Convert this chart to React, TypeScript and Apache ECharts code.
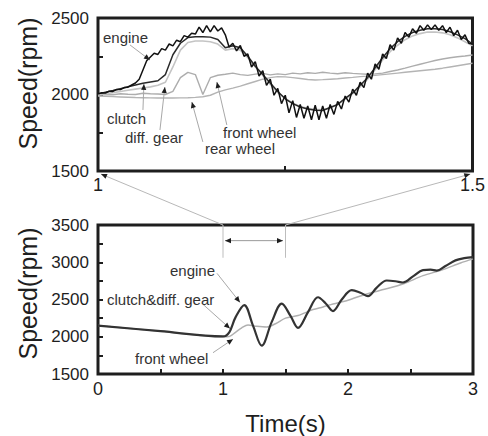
import React, { useEffect, useRef } from "react";
import * as echarts from "echarts";

// ---------- Top panel (zoom 1.0 s – 1.5 s) ----------
const topTime = [1.00,1.01,1.02,1.03,1.04,1.05,1.06,1.07,1.08,1.09,1.10,1.11,1.12,1.13,1.14,1.15,1.16,1.17,1.18,1.19,1.20,1.21,1.22,1.23,1.24,1.25,1.26,1.27,1.28,1.29,1.30,1.31,1.32,1.33,1.34,1.35,1.36,1.37,1.38,1.39,1.40,1.41,1.42,1.43,1.44,1.45,1.46,1.47,1.48,1.49,1.50];
const clutchTop = [2004,2015,2026,2038,2050,2062,2074,2082,2090,2130,2260,2335,2372,2378,2378,2375,2360,2305,2318,2305,2250,2185,2130,2075,2020,1972,1940,1918,1905,1897,1895,1915,1935,1975,2010,2060,2110,2175,2240,2300,2345,2380,2405,2420,2430,2430,2425,2410,2390,2365,2330];
const diffGearTop = [2000,2005,2012,2020,2028,2035,2042,2050,2060,2080,2180,2290,2340,2350,2350,2345,2330,2290,2300,2290,2240,2180,2125,2065,2012,1975,1945,1922,1910,1903,1900,1912,1935,1970,2005,2050,2100,2162,2225,2280,2322,2358,2383,2398,2408,2408,2403,2390,2370,2345,2318];
const frontWheelTop = [1995,2000,1998,2005,2002,2000,2008,2005,2003,2000,2020,2110,2145,2130,2000,2110,2126,2132,2140,2130,2125,2133,2138,2128,2135,2130,2140,2135,2142,2138,2145,2140,2136,2142,2138,2135,2132,2135,2140,2150,2160,2172,2185,2198,2210,2222,2232,2240,2247,2252,2258];
const rearWheelTop = [1990,1988,1986,1984,1982,1980,1979,1978,1977,1977,1977,1978,1979,1981,1985,1995,2015,2030,2042,2055,2070,2085,2100,2110,2117,2115,2110,2105,2098,2095,2097,2100,2103,2108,2112,2117,2120,2125,2130,2135,2140,2145,2150,2155,2160,2165,2172,2180,2188,2196,2204];

const engineTime = [1.000,1.005,1.010,1.015,1.020,1.025,1.030,1.035,1.040,1.045,1.050,1.055,1.060,1.065,1.070,1.075,1.080,1.085,1.090,1.095,1.100,1.105,1.110,1.115,1.120,1.125,1.130,1.135,1.140,1.145,1.150,1.155,1.160,1.165,1.170,1.175,1.180,1.185,1.190,1.195,1.200,1.205,1.210,1.215,1.220,1.225,1.230,1.235,1.240,1.245,1.250,1.255,1.260,1.265,1.270,1.275,1.280,1.285,1.290,1.295,1.300,1.305,1.310,1.315,1.320,1.325,1.330,1.335,1.340,1.345,1.350,1.355,1.360,1.365,1.370,1.375,1.380,1.385,1.390,1.395,1.400,1.405,1.410,1.415,1.420,1.425,1.430,1.435,1.440,1.445,1.450,1.455,1.460,1.465,1.470,1.475,1.480,1.485,1.490,1.495,1.500];
const engineTop = [2004,2012,2010,2022,2020,2033,2032,2045,2048,2062,2075,2100,2160,2220,2245,2270,2262,2300,2290,2330,2318,2355,2345,2385,2375,2400,2395,2440,2405,2450,2410,2450,2415,2435,2390,2310,2335,2285,2320,2250,2265,2180,2215,2120,2155,2060,2100,1995,2040,1940,1995,1880,1960,1850,1935,1845,1925,1835,1930,1835,1925,1845,1935,1870,1955,1905,1990,1950,2035,1995,2080,2045,2140,2100,2200,2165,2265,2235,2325,2290,2370,2335,2405,2375,2430,2400,2450,2420,2455,2425,2455,2420,2450,2405,2440,2385,2420,2360,2390,2335,2330];

// ---------- Bottom panel (0 s – 3 s) ----------
const engineBottomTime = [0,0.5,1.0,1.05,1.1,1.17,1.24,1.31,1.39,1.47,1.54,1.6,1.68,1.76,1.82,1.88,1.95,2.03,2.1,2.16,2.23,2.31,2.38,2.44,2.52,2.6,2.66,2.71,2.78,2.86,2.93,3.0];
const engineBottom = [2150,2075,2005,2060,2260,2425,2150,1880,2200,2445,2280,2120,2330,2530,2450,2345,2500,2625,2590,2545,2660,2755,2745,2728,2810,2895,2900,2888,2950,3025,3055,3070];
const frontBottomTime = [0,0.5,1.0,1.05,1.1,1.15,1.2,1.27,1.35,1.42,1.5,1.6,1.72,1.8,1.88,2.0,2.15,2.3,2.45,2.6,2.75,2.9,3.0];
const frontBottom = [2150,2075,2000,2003,2060,2120,2158,2140,2130,2175,2250,2285,2365,2400,2440,2490,2575,2640,2715,2820,2895,2990,3045];

const FONT = '"Liberation Sans", Arial, sans-serif';
const INK = "#1e1e1e";

function zip(t: number[], v: number[]) {
  return t.map((x, i) => [x, v[i]]);
}

export default function App() {
  const ref = useRef<HTMLDivElement>(null);
  useEffect(() => {
    if (!ref.current) return;
    const chart = echarts.init(ref.current, undefined, { renderer: "svg" });

    const yAxisBase = (gridIndex: number, min: number, max: number, shift: number) => ({
      type: "value",
      gridIndex,
      min,
      max,
      interval: 250,
      axisLine: { show: false },
      splitLine: { show: false },
      axisTick: { inside: true, length: 5, lineStyle: { color: INK, width: 2 } },
      axisLabel: {
        formatter: (v: number) => (v % 500 === 0 ? String(v) : ""),
        fontSize: 17,
        color: INK,
        fontFamily: FONT,
        margin: 9,
      },
      name: "Speed(rpm)",
      nameLocation: "middle",
      nameRotate: 90,
      nameGap: 58,
      nameTextStyle: { fontSize: 25, color: INK, fontFamily: FONT, padding: [0, 0, 0, shift] },
    });

    const option: any = {
      animation: false,
      grid: [
        { left: 98, top: 18, width: 375, height: 153, show: true, borderColor: INK, borderWidth: 3 },
        { left: 98, top: 225, width: 375, height: 154, show: true, borderColor: INK, borderWidth: 3 },
      ],
      xAxis: [
        {
          type: "value", gridIndex: 0, min: 1, max: 1.5, interval: 0.25,
          axisLine: { show: false }, splitLine: { show: false },
          axisTick: { inside: true, length: 5, lineStyle: { color: INK, width: 2 } },
          axisLabel: {
            formatter: (v: number) => (v === 1 ? "1" : v === 1.5 ? "1.5" : ""),
            fontSize: 18, color: INK, fontFamily: FONT, margin: 5,
          },
        },
        {
          type: "value", gridIndex: 1, min: 0, max: 3, interval: 0.5,
          axisLine: { show: false }, splitLine: { show: false },
          axisTick: { inside: true, length: 5, lineStyle: { color: INK, width: 2 } },
          axisLabel: {
            formatter: (v: number) => (Number.isInteger(v) ? String(v) : ""),
            fontSize: 18, color: INK, fontFamily: FONT, margin: 6,
          },
          name: "Time(s)", nameLocation: "middle", nameGap: 37,
          nameTextStyle: { fontSize: 24, color: INK, fontFamily: FONT },
        },
      ],
      yAxis: [yAxisBase(0, 1500, 2500, 22), yAxisBase(1, 1500, 3500, 12)],
      series: [
        { name: "rear wheel", type: "line", xAxisIndex: 0, yAxisIndex: 0, data: zip(topTime, rearWheelTop), showSymbol: false, lineStyle: { color: "#b4b4b4", width: 1.4 }, z: 1 },
        { name: "front wheel", type: "line", xAxisIndex: 0, yAxisIndex: 0, data: zip(topTime, frontWheelTop), showSymbol: false, lineStyle: { color: "#adadad", width: 1.4 }, z: 1 },
        { name: "diff. gear", type: "line", xAxisIndex: 0, yAxisIndex: 0, data: zip(topTime, diffGearTop), showSymbol: false, lineStyle: { color: "#c4c4c4", width: 1.6 }, z: 2 },
        { name: "clutch", type: "line", xAxisIndex: 0, yAxisIndex: 0, data: zip(topTime, clutchTop), showSymbol: false, lineStyle: { color: "#2a2a2a", width: 1.5 }, z: 3 },
        { name: "engine", type: "line", xAxisIndex: 0, yAxisIndex: 0, data: zip(engineTime, engineTop), showSymbol: false, lineStyle: { color: "#111", width: 1.5 }, z: 4 },
        { name: "front wheel (0-3 s)", type: "line", xAxisIndex: 1, yAxisIndex: 1, data: zip(frontBottomTime, frontBottom), smooth: 0.3, showSymbol: false, lineStyle: { color: "#b0b0b0", width: 1.5 }, z: 1 },
        { name: "engine / clutch&diff. gear (0-3 s)", type: "line", xAxisIndex: 1, yAxisIndex: 1, data: zip(engineBottomTime, engineBottom), smooth: 0.35, showSymbol: false, lineStyle: { color: "#333", width: 2.2 }, z: 3 },
      ],
    };
    chart.setOption(option);

    const P = (g: number, t: number, v: number) =>
      chart.convertToPixel({ xAxisIndex: g, yAxisIndex: g } as any, [t, v]) as number[];

    const head = (from: number[], to: number[], len = 6, half = 2.6) => {
      const dx = to[0] - from[0], dy = to[1] - from[1];
      const d = Math.hypot(dx, dy) || 1;
      const ux = dx / d, uy = dy / d;
      const bx = to[0] - ux * len, by = to[1] - uy * len;
      return {
        type: "polygon",
        shape: { points: [to, [bx - uy * half, by + ux * half], [bx + uy * half, by - ux * half]] },
        style: { fill: INK },
        z: 20,
      };
    };
    const arrow = (from: number[], to: number[], color = "#a8a8a8") => [
      { type: "line", shape: { x1: from[0], y1: from[1], x2: to[0], y2: to[1] }, style: { stroke: color, lineWidth: 1 }, z: 19 },
      head(from, to),
    ];
    const label = (text: string, x: number, y: number) => ({
      type: "text", x, y, z: 21,
      style: { text, fill: "#333", font: `15px ${FONT}`, verticalAlign: "middle", align: "left" },
    });

    const g: any[] = [];
    // zoom connectors
    g.push(...arrow(P(1, 1.0, 3500), P(0, 1.004, 1480), "#b8b8b8"));
    g.push(...arrow(P(1, 1.5, 3500), P(0, 1.497, 1480), "#b8b8b8"));
    const v1a = P(1, 1.0, 3500), v1b = P(1, 1.0, 3060);
    const v2a = P(1, 1.5, 3500), v2b = P(1, 1.5, 3060);
    g.push({ type: "line", shape: { x1: v1a[0], y1: v1a[1], x2: v1b[0], y2: v1b[1] }, style: { stroke: "#bdbdbd", lineWidth: 1 } });
    g.push({ type: "line", shape: { x1: v2a[0], y1: v2a[1], x2: v2b[0], y2: v2b[1] }, style: { stroke: "#bdbdbd", lineWidth: 1 } });
    const da = P(1, 1.016, 3290), db = P(1, 1.48, 3290);
    g.push({ type: "line", shape: { x1: da[0], y1: da[1], x2: db[0], y2: db[1] }, style: { stroke: "#999", lineWidth: 1 } });
    g.push(head(db, da), head(da, db));

    // top annotations
    g.push(label("engine", 103, 37), ...arrow(P(0, 1.0427, 2324), P(0, 1.0693, 2225)));
    g.push(label("clutch", 107, 118), ...arrow(P(0, 1.060, 1899), P(0, 1.0613, 2069)));
    g.push(label("diff. gear", 125, 137), ...arrow(P(0, 1.0827, 1768), P(0, 1.0893, 2049)));
    g.push(label("front wheel", 223, 132), ...arrow(P(0, 1.172, 1801), P(0, 1.1587, 2082)));
    g.push(label("rear wheel", 205, 148), ...arrow(P(0, 1.14, 1690), P(0, 1.1253, 1951)));
    // bottom annotations
    g.push(label("engine", 170, 270), ...arrow(P(1, 0.952, 2851), P(1, 1.136, 2461)));
    g.push(label("clutch&diff. gear", 107, 299), ...arrow(P(1, 0.84, 2435), P(1, 1.056, 2110)));
    g.push(label("front wheel", 135, 358), ...arrow(P(1, 0.92, 1786), P(1, 1.08, 1968)));

    chart.setOption({ graphic: g });

    return () => chart.dispose();
  }, []);

  return (
    <div
      ref={ref}
      style={{ position: "absolute", left: 0, top: 0, width: 488, height: 436, background: "#fff" }}
    />
  );
}
